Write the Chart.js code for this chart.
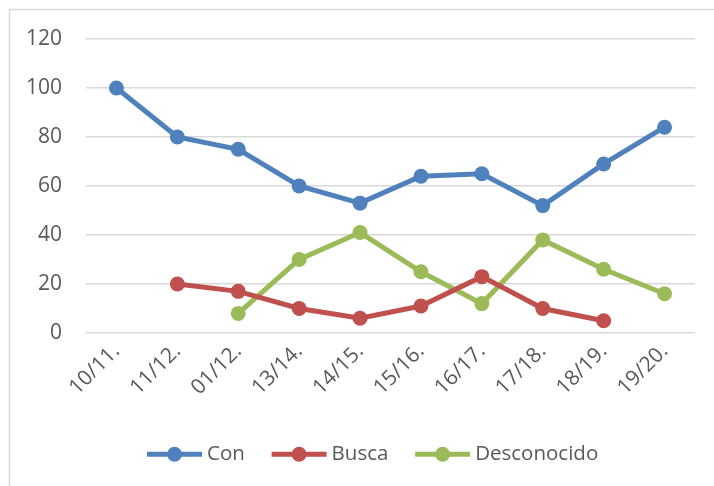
<!DOCTYPE html>
<html>
<head>
<meta charset="utf-8">
<script src="https://cdn.jsdelivr.net/npm/chart.js@4/dist/chart.umd.min.js"></script>
<style>
  html, body { margin: 0; padding: 0; background: #fff; }
  #wrap { position: absolute; left: 0; top: 0; width: 714px; height: 486px; }
</style>
</head>
<body>
<div id="wrap"><canvas id="grafico" width="714" height="486"></canvas></div>
<script>
const temporadas = ["10/11.", "11/12.", "01/12.", "13/14.", "14/15.", "15/16.", "16/17.", "17/18.", "18/19.", "19/20."];
const con = [100, 80, 75, 60, 53, 64, 65, 52, 69, 84];
const busca = [null, 20, 17, 10, 6, 11, 23, 10, 5, null];
const desconocido = [null, null, 8, 30, 41, 25, 12, 38, 26, 16];
const yTicks = [0, 20, 40, 60, 80, 100, 120];

const gris = '#595959';
const fuente = "'Open Sans', sans-serif";
const tamLeyenda = 20.5;

const serie = (label, data, color) => ({
    label: label,
    data: data,
    borderColor: color,
    backgroundColor: color,
    borderWidth: 5,
    pointRadius: 7.5,
    pointHoverRadius: 7.5,
    pointBackgroundColor: color,
    pointBorderWidth: 0,
    tension: 0
});

// marco del grafico, leyenda desplazada y linea + circulo de la leyenda
const extras = {
    id: 'extras',
    afterLayout(chart) {
        chart.legend.left += 25;
        chart.legend.right += 25;
    },
    beforeDraw(chart) {
        const ctx = chart.ctx;
        ctx.save();
        ctx.strokeStyle = '#d9d9d9';
        ctx.lineWidth = 1.5;
        ctx.strokeRect(9.5, 9.5, 760, 520);
        ctx.restore();
    },
    afterDraw(chart) {
        const ctx = chart.ctx;
        const lg = chart.legend;
        const bw = lg.options.labels.boxWidth;
        lg.legendHitBoxes.forEach((box, i) => {
            const color = chart.data.datasets[i].borderColor;
            const textX = box.left + bw + tamLeyenda / 2;
            const cy = box.top + box.height / 2;
            ctx.save();
            ctx.fillStyle = color;
            ctx.fillRect(textX - 60, cy - 2.5, 55, 5);
            ctx.beginPath();
            ctx.arc(textX - 32.5, cy, 7.5, 0, Math.PI * 2);
            ctx.fill();
            ctx.restore();
        });
    }
};

new Chart(document.getElementById('grafico'), {
    type: 'line',
    data: {
        labels: temporadas,
        datasets: [
            serie('Con', con, '#4f81bd'),
            serie('Busca', busca, '#c0504d'),
            serie('Desconocido', desconocido, '#9bbb59')
        ]
    },
    options: {
        responsive: false,
        animation: false,
        layout: { padding: { top: 39, left: 0, right: 19, bottom: 11.5 } },
        plugins: {
            tooltip: { enabled: false },
            legend: {
                position: 'bottom',
                labels: {
                    color: gris,
                    font: { family: fuente, size: tamLeyenda },
                    boxWidth: 50,
                    boxHeight: 5,
                    padding: 26.5,
                    generateLabels: (chart) => Chart.defaults.plugins.legend.labels.generateLabels(chart)
                        .map(it => Object.assign(it, { fillStyle: 'rgba(0,0,0,0)', strokeStyle: 'rgba(0,0,0,0)', lineWidth: 0 }))
                }
            }
        },
        scales: {
            x: {
                offset: true,
                grid: { display: false, drawTicks: false },
                border: { display: false },
                ticks: {
                    color: gris,
                    font: { family: fuente, size: 21 },
                    minRotation: 45,
                    maxRotation: 45,
                    padding: 6
                },
                afterFit: (s) => { s.height = 84.5; }
            },
            y: {
                min: 0,
                max: 120,
                afterBuildTicks: (s) => { s.ticks = yTicks.map(v => ({ value: v })); },
                grid: { color: '#d9d9d9', lineWidth: 1.5, drawTicks: false },
                border: { display: false },
                ticks: {
                    color: gris,
                    font: { family: fuente, size: 21 },
                    padding: 24
                },
                afterFit: (s) => { s.width = 86; }
            }
        }
    },
    plugins: [extras]
});
</script>
</body>
</html>
